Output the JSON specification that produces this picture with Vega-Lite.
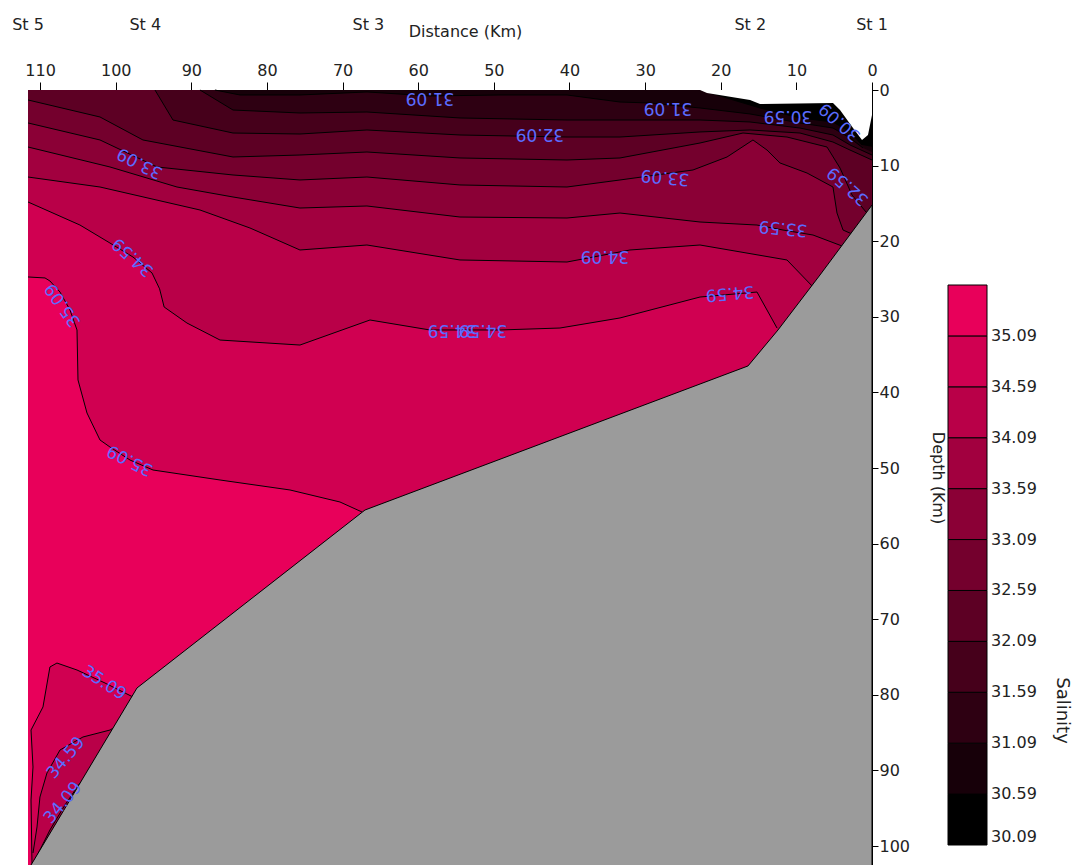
{
  "$schema": "https://vega.github.io/schema/vega-lite/v6.json",
  "width": 844,
  "height": 775,
  "autosize": {"type": "none"},
  "padding": {"left": 28, "top": 90, "right": 209, "bottom": 0},
  "background": "white",
  "title": {"text": "Salinity", "orient": "right", "frame": "group", "anchor": "middle", "angle": 90, "baseline": "bottom", "offset": -2, "dx": 233, "font": "DejaVu Sans", "fontSize": 18, "fontWeight": "normal", "color": "#222"},
  "config": {
    "font": "DejaVu Sans",
    "view": {"stroke": "#111", "strokeWidth": 1},
    "axis": {"grid": false, "domainColor": "#000", "tickColor": "#000", "labelColor": "#222", "labelFontSize": 16, "labelFont": "DejaVu Sans", "titleFont": "DejaVu Sans", "titleFontSize": 16, "titleFontWeight": "normal", "titleColor": "#222"}
  },
  "datasets": {
    "iso": [
      {"id":"base","sal":35.34,"k":0,"e":1,"d":111.6,"z":0},
      {"id":"base","sal":35.34,"k":1,"e":1,"d":0,"z":0},
      {"id":"base","sal":35.34,"k":2,"e":1,"d":0,"z":102.5},
      {"id":"base","sal":35.34,"k":3,"e":1,"d":111.6,"z":102.5},

      {"id":"s350a","sal":34.84,"k":0,"e":0,"d":111.6,"z":24.73},
      {"id":"s350a","sal":34.84,"k":1,"e":0,"d":109.35,"z":24.86},
      {"id":"s350a","sal":34.84,"k":2,"e":0,"d":108.7,"z":25.26},
      {"id":"s350a","sal":34.84,"k":3,"e":0,"d":107.37,"z":26.72},
      {"id":"s350a","sal":34.84,"k":4,"e":0,"d":106.05,"z":29.1},
      {"id":"s350a","sal":34.84,"k":5,"e":0,"d":105.12,"z":31.74},
      {"id":"s350a","sal":34.84,"k":6,"e":0,"d":104.99,"z":38.35},
      {"id":"s350a","sal":34.84,"k":7,"e":0,"d":103.8,"z":42.72},
      {"id":"s350a","sal":34.84,"k":8,"e":0,"d":102.08,"z":46.29},
      {"id":"s350a","sal":34.84,"k":9,"e":0,"d":100.76,"z":47.22},
      {"id":"s350a","sal":34.84,"k":10,"e":0,"d":98.11,"z":48.94},
      {"id":"s350a","sal":34.84,"k":11,"e":0,"d":95.07,"z":50.26},
      {"id":"s350a","sal":34.84,"k":12,"e":0,"d":86.21,"z":51.58},
      {"id":"s350a","sal":34.84,"k":13,"e":0,"d":76.96,"z":52.9},
      {"id":"s350a","sal":34.84,"k":14,"e":0,"d":70.35,"z":54.49},
      {"id":"s350a","sal":34.84,"k":15,"e":0,"d":67.44,"z":55.81},
      {"id":"s350a","sal":34.84,"k":16,"e":1,"d":35.97,"z":102.5},
      {"id":"s350a","sal":34.84,"k":17,"e":1,"d":0,"z":102.5},
      {"id":"s350a","sal":34.84,"k":18,"e":1,"d":0,"z":0},
      {"id":"s350a","sal":34.84,"k":19,"e":1,"d":111.6,"z":0},

      {"id":"s350b","sal":34.84,"k":0,"e":0,"d":111.07,"z":102.37},
      {"id":"s350b","sal":34.84,"k":1,"e":0,"d":111.2,"z":93.9},
      {"id":"s350b","sal":34.84,"k":2,"e":0,"d":110.94,"z":89.54},
      {"id":"s350b","sal":34.84,"k":3,"e":0,"d":111.2,"z":84.65},
      {"id":"s350b","sal":34.84,"k":4,"e":0,"d":109.62,"z":81.6},
      {"id":"s350b","sal":34.84,"k":5,"e":0,"d":108.7,"z":76.31},
      {"id":"s350b","sal":34.84,"k":6,"e":0,"d":107.77,"z":75.79},
      {"id":"s350b","sal":34.84,"k":7,"e":0,"d":105.12,"z":76.71},
      {"id":"s350b","sal":34.84,"k":8,"e":0,"d":101.42,"z":78.43},
      {"id":"s350b","sal":34.84,"k":9,"e":0,"d":97.72,"z":80.28},
      {"id":"s350b","sal":34.84,"k":10,"e":1,"d":96.13,"z":102.37},

      {"id":"s345a","sal":34.34,"k":0,"e":0,"d":111.6,"z":14.81},
      {"id":"s345a","sal":34.34,"k":1,"e":0,"d":104.73,"z":17.86},
      {"id":"s345a","sal":34.34,"k":2,"e":0,"d":100.76,"z":20.24},
      {"id":"s345a","sal":34.34,"k":3,"e":0,"d":97.72,"z":22.09},
      {"id":"s345a","sal":34.34,"k":4,"e":0,"d":95.2,"z":24.2},
      {"id":"s345a","sal":34.34,"k":5,"e":0,"d":94.2,"z":26.3},
      {"id":"s345a","sal":34.34,"k":6,"e":0,"d":93.6,"z":28.7},
      {"id":"s345a","sal":34.34,"k":7,"e":0,"d":90.58,"z":30.82},
      {"id":"s345a","sal":34.34,"k":8,"e":0,"d":86.21,"z":33.07},
      {"id":"s345a","sal":34.34,"k":9,"e":0,"d":75.64,"z":33.73},
      {"id":"s345a","sal":34.34,"k":10,"e":0,"d":66.38,"z":30.42},
      {"id":"s345a","sal":34.34,"k":11,"e":0,"d":58.45,"z":31.74},
      {"id":"s345a","sal":34.34,"k":12,"e":0,"d":49.19,"z":31.74},
      {"id":"s345a","sal":34.34,"k":13,"e":0,"d":41.26,"z":31.48},
      {"id":"s345a","sal":34.34,"k":14,"e":0,"d":33.32,"z":30.15},
      {"id":"s345a","sal":34.34,"k":15,"e":0,"d":22.74,"z":27.38},
      {"id":"s345a","sal":34.34,"k":16,"e":0,"d":15.21,"z":26.72},
      {"id":"s345a","sal":34.34,"k":17,"e":0,"d":12.56,"z":31.48},
      {"id":"s345a","sal":34.34,"k":18,"e":1,"d":0,"z":102.5},
      {"id":"s345a","sal":34.34,"k":19,"e":1,"d":0,"z":0},
      {"id":"s345a","sal":34.34,"k":20,"e":1,"d":111.6,"z":0},

      {"id":"s345b","sal":34.34,"k":0,"e":0,"d":110.94,"z":100.91},
      {"id":"s345b","sal":34.34,"k":1,"e":0,"d":110.41,"z":97.47},
      {"id":"s345b","sal":34.34,"k":2,"e":0,"d":110.02,"z":93.51},
      {"id":"s345b","sal":34.34,"k":3,"e":0,"d":109.09,"z":90.33},
      {"id":"s345b","sal":34.34,"k":4,"e":0,"d":107.37,"z":87.29},
      {"id":"s345b","sal":34.34,"k":5,"e":0,"d":104.33,"z":85.57},
      {"id":"s345b","sal":34.34,"k":6,"e":0,"d":100.76,"z":84.65},
      {"id":"s345b","sal":34.34,"k":7,"e":0,"d":100.1,"z":84.25},
      {"id":"s345b","sal":34.34,"k":8,"e":1,"d":96.13,"z":102.37},
      {"id":"s345b","sal":34.34,"k":9,"e":1,"d":110.94,"z":102.37},

      {"id":"s340a","sal":33.84,"k":0,"e":0,"d":111.6,"z":11.51},
      {"id":"s340a","sal":33.84,"k":1,"e":0,"d":102.08,"z":12.83},
      {"id":"s340a","sal":33.84,"k":2,"e":0,"d":88.86,"z":15.87},
      {"id":"s340a","sal":33.84,"k":3,"e":0,"d":82.25,"z":18.25},
      {"id":"s340a","sal":33.84,"k":4,"e":0,"d":75.64,"z":21.16},
      {"id":"s340a","sal":33.84,"k":5,"e":0,"d":66.78,"z":20.5},
      {"id":"s340a","sal":33.84,"k":6,"e":0,"d":54.48,"z":22.48},
      {"id":"s340a","sal":33.84,"k":7,"e":0,"d":40.33,"z":22.75},
      {"id":"s340a","sal":33.84,"k":8,"e":0,"d":32.0,"z":21.16},
      {"id":"s340a","sal":33.84,"k":9,"e":0,"d":22.74,"z":20.5},
      {"id":"s340a","sal":33.84,"k":10,"e":0,"d":11.24,"z":22.48},
      {"id":"s340a","sal":33.84,"k":11,"e":0,"d":7.8,"z":26.05},
      {"id":"s340a","sal":33.84,"k":12,"e":1,"d":0,"z":102.5},
      {"id":"s340a","sal":33.84,"k":13,"e":1,"d":0,"z":0},
      {"id":"s340a","sal":33.84,"k":14,"e":1,"d":111.6,"z":0},

      {"id":"s340b","sal":33.84,"k":0,"e":0,"d":110.68,"z":101.84},
      {"id":"s340b","sal":33.84,"k":1,"e":0,"d":108.7,"z":97.87},
      {"id":"s340b","sal":33.84,"k":2,"e":0,"d":106.71,"z":94.56},
      {"id":"s340b","sal":33.84,"k":3,"e":0,"d":104.73,"z":91.66},
      {"id":"s340b","sal":33.84,"k":4,"e":1,"d":96.13,"z":102.37},
      {"id":"s340b","sal":33.84,"k":5,"e":1,"d":110.68,"z":102.37},

      {"id":"s335","sal":33.34,"k":0,"e":0,"d":111.6,"z":7.54},
      {"id":"s335","sal":33.34,"k":1,"e":0,"d":100.76,"z":10.18},
      {"id":"s335","sal":33.34,"k":2,"e":0,"d":91.9,"z":12.83},
      {"id":"s335","sal":33.34,"k":3,"e":0,"d":84.49,"z":14.15},
      {"id":"s335","sal":33.34,"k":4,"e":0,"d":75.64,"z":15.61},
      {"id":"s335","sal":33.34,"k":5,"e":0,"d":66.78,"z":15.34},
      {"id":"s335","sal":33.34,"k":6,"e":0,"d":54.48,"z":16.8},
      {"id":"s335","sal":33.34,"k":7,"e":0,"d":40.33,"z":16.93},
      {"id":"s335","sal":33.34,"k":8,"e":0,"d":33.32,"z":16.27},
      {"id":"s335","sal":33.34,"k":9,"e":0,"d":22.74,"z":17.46},
      {"id":"s335","sal":33.34,"k":10,"e":0,"d":15.21,"z":17.86},
      {"id":"s335","sal":33.34,"k":11,"e":0,"d":11.77,"z":18.52},
      {"id":"s335","sal":33.34,"k":12,"e":0,"d":7.8,"z":19.18},
      {"id":"s335","sal":33.34,"k":13,"e":0,"d":3.97,"z":20.63},
      {"id":"s335","sal":33.34,"k":14,"e":1,"d":0,"z":102.5},
      {"id":"s335","sal":33.34,"k":15,"e":1,"d":0,"z":0},
      {"id":"s335","sal":33.34,"k":16,"e":1,"d":111.6,"z":0},

      {"id":"s330","sal":32.84,"k":0,"e":0,"d":111.6,"z":4.36},
      {"id":"s330","sal":32.84,"k":1,"e":0,"d":102.08,"z":6.61},
      {"id":"s330","sal":32.84,"k":2,"e":0,"d":94.54,"z":10.18},
      {"id":"s330","sal":32.84,"k":3,"e":0,"d":84.49,"z":11.24},
      {"id":"s330","sal":32.84,"k":4,"e":0,"d":75.64,"z":11.9},
      {"id":"s330","sal":32.84,"k":5,"e":0,"d":66.78,"z":11.51},
      {"id":"s330","sal":32.84,"k":6,"e":0,"d":54.48,"z":12.56},
      {"id":"s330","sal":32.84,"k":7,"e":0,"d":40.33,"z":12.83},
      {"id":"s330","sal":32.84,"k":8,"e":0,"d":33.32,"z":11.9},
      {"id":"s330","sal":32.84,"k":9,"e":0,"d":23.67,"z":10.58},
      {"id":"s330","sal":32.84,"k":10,"e":0,"d":19.17,"z":8.86},
      {"id":"s330","sal":32.84,"k":11,"e":0,"d":15.74,"z":6.61},
      {"id":"s330","sal":32.84,"k":12,"e":0,"d":13.88,"z":7.94},
      {"id":"s330","sal":32.84,"k":13,"e":0,"d":12.17,"z":9.65},
      {"id":"s330","sal":32.84,"k":14,"e":0,"d":8.59,"z":10.98},
      {"id":"s330","sal":32.84,"k":15,"e":0,"d":5.16,"z":12.83},
      {"id":"s330","sal":32.84,"k":16,"e":0,"d":4.63,"z":16.27},
      {"id":"s330","sal":32.84,"k":17,"e":0,"d":3.83,"z":18.52},
      {"id":"s330","sal":32.84,"k":18,"e":0,"d":2.64,"z":19.05},
      {"id":"s330","sal":32.84,"k":19,"e":1,"d":0,"z":102.5},
      {"id":"s330","sal":32.84,"k":20,"e":1,"d":0,"z":0},
      {"id":"s330","sal":32.84,"k":21,"e":1,"d":111.6,"z":0},

      {"id":"s325","sal":32.34,"k":0,"e":0,"d":111.6,"z":1.32},
      {"id":"s325","sal":32.34,"k":1,"e":0,"d":102.08,"z":3.57},
      {"id":"s325","sal":32.34,"k":2,"e":0,"d":96.4,"z":6.61},
      {"id":"s325","sal":32.34,"k":3,"e":0,"d":84.49,"z":8.86},
      {"id":"s325","sal":32.34,"k":4,"e":0,"d":75.64,"z":8.6},
      {"id":"s325","sal":32.34,"k":5,"e":0,"d":66.78,"z":8.2},
      {"id":"s325","sal":32.34,"k":6,"e":0,"d":54.48,"z":8.99},
      {"id":"s325","sal":32.34,"k":7,"e":0,"d":40.33,"z":9.26},
      {"id":"s325","sal":32.34,"k":8,"e":0,"d":33.32,"z":8.99},
      {"id":"s325","sal":32.34,"k":9,"e":0,"d":22.74,"z":7.01},
      {"id":"s325","sal":32.34,"k":10,"e":0,"d":17.06,"z":5.69},
      {"id":"s325","sal":32.34,"k":11,"e":0,"d":11.24,"z":6.22},
      {"id":"s325","sal":32.34,"k":12,"e":0,"d":5.95,"z":7.54},
      {"id":"s325","sal":32.34,"k":13,"e":0,"d":4.23,"z":10.32},
      {"id":"s325","sal":32.34,"k":14,"e":0,"d":2.64,"z":13.89},
      {"id":"s325","sal":32.34,"k":15,"e":0,"d":0.79,"z":16.14},
      {"id":"s325","sal":32.34,"k":16,"e":1,"d":0,"z":102.5},
      {"id":"s325","sal":32.34,"k":17,"e":1,"d":0,"z":0},
      {"id":"s325","sal":32.34,"k":18,"e":1,"d":111.6,"z":0},

      {"id":"s320","sal":31.84,"k":0,"e":0,"d":94.81,"z":0},
      {"id":"s320","sal":31.84,"k":1,"e":0,"d":92.43,"z":3.97},
      {"id":"s320","sal":31.84,"k":2,"e":0,"d":84.49,"z":5.69},
      {"id":"s320","sal":31.84,"k":3,"e":0,"d":75.64,"z":5.82},
      {"id":"s320","sal":31.84,"k":4,"e":0,"d":66.78,"z":5.29},
      {"id":"s320","sal":31.84,"k":5,"e":0,"d":54.48,"z":5.95},
      {"id":"s320","sal":31.84,"k":6,"e":0,"d":40.33,"z":6.22},
      {"id":"s320","sal":31.84,"k":7,"e":0,"d":33.32,"z":6.22},
      {"id":"s320","sal":31.84,"k":8,"e":0,"d":22.74,"z":5.55},
      {"id":"s320","sal":31.84,"k":9,"e":0,"d":16.13,"z":5.29},
      {"id":"s320","sal":31.84,"k":10,"e":0,"d":9.52,"z":5.69},
      {"id":"s320","sal":31.84,"k":11,"e":0,"d":5.16,"z":6.88},
      {"id":"s320","sal":31.84,"k":12,"e":0,"d":2.91,"z":7.94},
      {"id":"s320","sal":31.84,"k":13,"e":0,"d":0,"z":9.26},
      {"id":"s320","sal":31.84,"k":14,"e":1,"d":0,"z":0},

      {"id":"s315","sal":31.34,"k":0,"e":0,"d":88.86,"z":0},
      {"id":"s315","sal":31.34,"k":1,"e":0,"d":84.49,"z":2.65},
      {"id":"s315","sal":31.34,"k":2,"e":0,"d":75.64,"z":3.04},
      {"id":"s315","sal":31.34,"k":3,"e":0,"d":66.78,"z":2.91},
      {"id":"s315","sal":31.34,"k":4,"e":0,"d":54.48,"z":3.7},
      {"id":"s315","sal":31.34,"k":5,"e":0,"d":40.33,"z":3.97},
      {"id":"s315","sal":31.34,"k":6,"e":0,"d":33.32,"z":3.97},
      {"id":"s315","sal":31.34,"k":7,"e":0,"d":22.74,"z":3.97},
      {"id":"s315","sal":31.34,"k":8,"e":0,"d":16.13,"z":4.23},
      {"id":"s315","sal":31.34,"k":9,"e":0,"d":9.52,"z":5.03},
      {"id":"s315","sal":31.34,"k":10,"e":0,"d":5.16,"z":5.95},
      {"id":"s315","sal":31.34,"k":11,"e":0,"d":2.91,"z":7.27},
      {"id":"s315","sal":31.34,"k":12,"e":0,"d":0,"z":8.6},
      {"id":"s315","sal":31.34,"k":13,"e":1,"d":0,"z":0},

      {"id":"s310","sal":30.84,"k":0,"e":0,"d":86.88,"z":0},
      {"id":"s310","sal":30.84,"k":1,"e":0,"d":83.57,"z":0.66},
      {"id":"s310","sal":30.84,"k":2,"e":0,"d":75.64,"z":0.66},
      {"id":"s310","sal":30.84,"k":3,"e":0,"d":66.78,"z":0.26},
      {"id":"s310","sal":30.84,"k":4,"e":0,"d":58.45,"z":0.79},
      {"id":"s310","sal":30.84,"k":5,"e":0,"d":49.19,"z":0.66},
      {"id":"s310","sal":30.84,"k":6,"e":0,"d":40.33,"z":0.66},
      {"id":"s310","sal":30.84,"k":7,"e":0,"d":33.32,"z":1.59},
      {"id":"s310","sal":30.84,"k":8,"e":0,"d":29.36,"z":1.72},
      {"id":"s310","sal":30.84,"k":9,"e":0,"d":22.74,"z":2.38},
      {"id":"s310","sal":30.84,"k":10,"e":0,"d":16.13,"z":3.17},
      {"id":"s310","sal":30.84,"k":11,"e":0,"d":9.52,"z":4.36},
      {"id":"s310","sal":30.84,"k":12,"e":0,"d":5.16,"z":5.03},
      {"id":"s310","sal":30.84,"k":13,"e":0,"d":2.91,"z":6.35},
      {"id":"s310","sal":30.84,"k":14,"e":0,"d":1.19,"z":7.67},
      {"id":"s310","sal":30.84,"k":15,"e":1,"d":0,"z":8.2},
      {"id":"s310","sal":30.84,"k":16,"e":1,"d":0,"z":0},

      {"id":"s305","sal":30.34,"k":0,"e":0,"d":21.82,"z":0.26},
      {"id":"s305","sal":30.34,"k":1,"e":0,"d":17.45,"z":1.59},
      {"id":"s305","sal":30.34,"k":2,"e":0,"d":14.81,"z":2.38},
      {"id":"s305","sal":30.34,"k":3,"e":0,"d":9.52,"z":3.7},
      {"id":"s305","sal":30.34,"k":4,"e":0,"d":5.16,"z":4.23},
      {"id":"s305","sal":30.34,"k":5,"e":0,"d":2.91,"z":5.55},
      {"id":"s305","sal":30.34,"k":6,"e":0,"d":1.32,"z":7.27},
      {"id":"s305","sal":30.34,"k":7,"e":1,"d":0,"z":7.5},
      {"id":"s305","sal":30.34,"k":8,"e":1,"d":0,"z":0},
      {"id":"s305","sal":30.34,"k":9,"e":1,"d":21.82,"z":0},

      {"id":"s300","sal":null,"k":0,"e":0,"d":5.55,"z":2.25},
      {"id":"s300","sal":null,"k":1,"e":0,"d":3.97,"z":3.44},
      {"id":"s300","sal":null,"k":2,"e":0,"d":2.64,"z":5.03},
      {"id":"s300","sal":null,"k":3,"e":0,"d":1.59,"z":6.61}
    ],
    "nodata": [
      {"k":0,"d":22.74,"z":0},
      {"k":1,"d":21.82,"z":0.4},
      {"k":2,"d":16.13,"z":1.32},
      {"k":3,"d":14.81,"z":1.85},
      {"k":4,"d":5.16,"z":1.72},
      {"k":5,"d":4.23,"z":2.65},
      {"k":6,"d":2.51,"z":5.03},
      {"k":7,"d":1.32,"z":6.61},
      {"k":8,"d":0.53,"z":5.95},
      {"k":9,"d":0,"z":3.31},
      {"k":10,"d":0,"z":0}
    ],
    "topo": [
      {"k":0,"d":111.2,"z":102.5},
      {"k":1,"d":97.19,"z":79.09},
      {"k":2,"d":67.04,"z":55.55},
      {"k":3,"d":16.4,"z":36.5},
      {"k":4,"d":12.43,"z":31.74},
      {"k":5,"d":6.88,"z":24.47},
      {"k":6,"d":0,"z":15.21},
      {"k":7,"d":0,"z":102.5}
    ],
    "stations": [
      {"st":"St 5","d":111.6,"z":0},
      {"st":"St 4","d":96.1,"z":0},
      {"st":"St 3","d":66.6,"z":0},
      {"st":"St 2","d":16.1,"z":0},
      {"st":"St 1","d":0,"z":0}
    ],
    "lab180": [
      {"t":"31.09","d":58.45,"z":1.06},
      {"t":"31.09","d":26.97,"z":2.38},
      {"t":"32.09","d":43.9,"z":5.82},
      {"t":"34.09","d":35.31,"z":21.95},
      {"t":"34.59","d":55.54,"z":31.74},
      {"t":"34.59","d":51.44,"z":31.74},
      {"t":"30.59","d":11.11,"z":3.44}
    ],
    "lab185": [
      {"t":"33.09","d":27.37,"z":11.51},
      {"t":"33.59","d":11.77,"z":18.25}
    ],
    "lab175": [
      {"t":"34.59","d":18.78,"z":26.85}
    ],
    "lab207": [
      {"t":"33.09","d":96.8,"z":9.65},
      {"t":"35.09","d":98.11,"z":48.94}
    ],
    "lab222": [
      {"t":"34.59","d":97.72,"z":22.09},
      {"t":"30.09","d":4.23,"z":4.23},
      {"t":"32.59","d":3.17,"z":12.7}
    ],
    "lab235": [
      {"t":"35.09","d":106.97,"z":28.44}
    ],
    "lab33": [
      {"t":"35.09","d":101.55,"z":78.43}
    ],
    "lab310": [
      {"t":"34.59","d":106.58,"z":88.35},
      {"t":"34.09","d":106.97,"z":94.3}
    ]
  },
  "encoding": {
    "x": {"field": "d", "type": "quantitative",
      "scale": {"domain": [0, 111.6], "reverse": true, "nice": false, "zero": false},
      "axis": {"orient": "top", "values": [0,10,20,30,40,50,60,70,80,90,100,110], "tickSize": 8, "labelPadding": 4, "labelFlush": false, "labelOverlap": false, "title": "Distance (Km)", "titleX": 437, "titleY": -59, "titleBaseline": "middle", "titleAnchor": "middle"}},
    "y": {"field": "z", "type": "quantitative",
      "scale": {"domain": [0, 102.5], "reverse": true, "nice": false, "zero": false},
      "axis": {"orient": "right", "values": [0,10,20,30,40,50,60,70,80,90,100], "tickSize": 6, "labelPadding": 1, "labelFlush": false, "labelOverlap": false, "title": "Depth (Km)", "titleAngle": 90, "titlePadding": 20}}
  },
  "layer": [
    {
      "data": {"name": "iso"},
      "transform": [{"filter": "isValid(datum.sal)"}],
      "mark": {"type": "line", "strokeWidth": 0, "strokeOpacity": 0},
      "encoding": {
        "detail": {"field": "id"},
        "order": {"field": "k"},
        "fill": {"field": "sal", "type": "quantitative",
          "scale": {"type": "quantize", "domain": [30.09, 35.59], "nice": false, "zero": false,
            "range": ["#000000","#170009","#2e0012","#46001b","#5d0024","#74002d","#8b0036","#a2003f","#b90048","#d00051","#e8005a"]},
          "legend": {"type": "gradient", "orient": "none", "legendX": 920, "legendY": 195, "direction": "vertical",
            "gradientLength": 560, "gradientThickness": 39, "gradientStrokeColor": "#000", "gradientStrokeWidth": 1,
            "format": ".2f", "labelExpr": "datum.index == 0 ? '30.09' : datum.label",
            "labelFont": "DejaVu Sans", "labelFontSize": 16, "labelColor": "#222", "labelOffset": 4, "labelOverlap": false,
            "title": null}}
      }
    },
    {
      "data": {"name": "iso"},
      "transform": [{"filter": "datum.e == 0"}],
      "mark": {"type": "line", "color": "#000", "strokeWidth": 1},
      "encoding": {"detail": {"field": "id"}, "order": {"field": "k"}}
    },
    {
      "data": {"name": "nodata"},
      "mark": {"type": "line", "fill": "#ffffff", "strokeWidth": 0, "strokeOpacity": 0},
      "encoding": {"order": {"field": "k"}}
    },
    {
      "data": {"name": "topo"},
      "mark": {"type": "line", "fill": "#9b9b9b", "stroke": "#000", "strokeWidth": 1},
      "encoding": {"order": {"field": "k"}}
    },
    {"data": {"name": "lab180"}, "mark": {"type": "text", "angle": 180, "font": "DejaVu Sans", "fontSize": 17, "fill": "#5b6cff"}, "encoding": {"text": {"field": "t"}}},
    {"data": {"name": "lab185"}, "mark": {"type": "text", "angle": 185, "font": "DejaVu Sans", "fontSize": 17, "fill": "#5b6cff"}, "encoding": {"text": {"field": "t"}}},
    {"data": {"name": "lab175"}, "mark": {"type": "text", "angle": 175, "font": "DejaVu Sans", "fontSize": 17, "fill": "#5b6cff"}, "encoding": {"text": {"field": "t"}}},
    {"data": {"name": "lab207"}, "mark": {"type": "text", "angle": 207, "font": "DejaVu Sans", "fontSize": 17, "fill": "#5b6cff"}, "encoding": {"text": {"field": "t"}}},
    {"data": {"name": "lab222"}, "mark": {"type": "text", "angle": 222, "font": "DejaVu Sans", "fontSize": 17, "fill": "#5b6cff"}, "encoding": {"text": {"field": "t"}}},
    {"data": {"name": "lab235"}, "mark": {"type": "text", "angle": 235, "font": "DejaVu Sans", "fontSize": 17, "fill": "#5b6cff"}, "encoding": {"text": {"field": "t"}}},
    {"data": {"name": "lab33"}, "mark": {"type": "text", "angle": 33, "font": "DejaVu Sans", "fontSize": 17, "fill": "#5b6cff"}, "encoding": {"text": {"field": "t"}}},
    {"data": {"name": "lab310"}, "mark": {"type": "text", "angle": 310, "font": "DejaVu Sans", "fontSize": 17, "fill": "#5b6cff"}, "encoding": {"text": {"field": "t"}}},
    {
      "data": {"name": "stations"},
      "mark": {"type": "text", "font": "DejaVu Sans", "fontSize": 16, "fill": "#222", "baseline": "middle", "align": "center", "dy": -65, "clip": false},
      "encoding": {"text": {"field": "st"}}
    }
  ]
}
